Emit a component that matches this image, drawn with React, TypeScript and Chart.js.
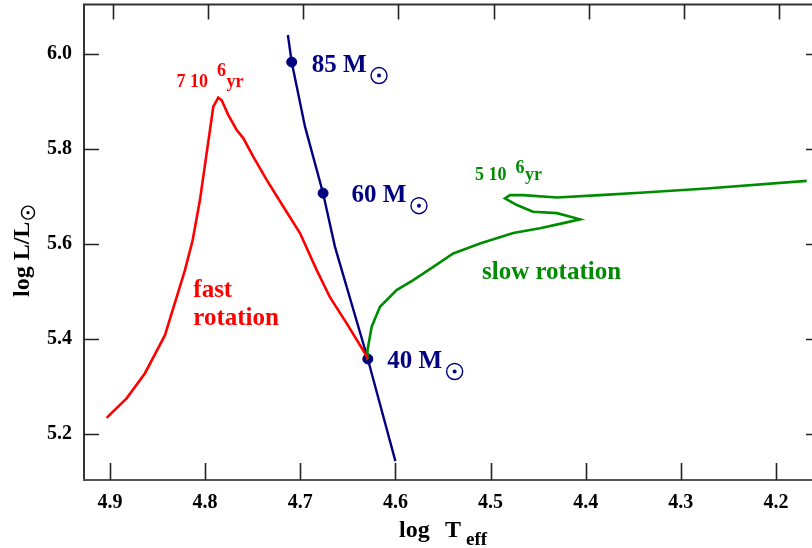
import React, { useEffect, useRef } from "react";
import { Chart, registerables } from "chart.js";
Chart.register(...registerables);

// ---- data (log Teff, log L/Lsun) ----
const xTickValues = [4.9, 4.8, 4.7, 4.6, 4.5, 4.4, 4.3, 4.2];
const yTickValues = [5.2, 5.4, 5.6, 5.8, 6.0];

const zamsLogT = [4.713, 4.709, 4.695, 4.676, 4.6635, 4.629, 4.6];
const zamsLogL = [6.04, 5.983, 5.847, 5.707, 5.594, 5.358, 5.143];

const massLogT = [4.709, 4.676, 4.629];
const massLogL = [5.983, 5.707, 5.358];
const massNames = ["85", "60", "40"];

const fastLogT = [
  4.9035, 4.8825, 4.8632, 4.8422, 4.8212, 4.8131, 4.8054, 4.7914, 4.7862,
  4.7827, 4.7757, 4.7668, 4.7599, 4.7494, 4.7353, 4.7179, 4.7003, 4.6827,
  4.6688, 4.6512, 4.632, 4.6288,
];
const fastLogL = [
  5.234, 5.275, 5.328, 5.408, 5.545, 5.608, 5.693, 5.889, 5.908, 5.903, 5.872,
  5.84, 5.823, 5.784, 5.735, 5.679, 5.623, 5.545, 5.488, 5.433, 5.37, 5.358,
];

const slowLogT = [
  4.6288, 4.6293, 4.6249, 4.6162, 4.5987, 4.5812, 4.5602, 4.5392, 4.5111,
  4.4761, 4.448, 4.4235, 4.406, 4.4302, 4.4554, 4.4722, 4.4848, 4.4796,
  4.4659, 4.4302, 4.385, 4.3429, 4.2728, 4.1677,
];
const slowLogL = [
  5.358, 5.377, 5.426, 5.468, 5.503, 5.524, 5.552, 5.58, 5.601, 5.623, 5.633,
  5.644, 5.652, 5.665, 5.668, 5.682, 5.696, 5.703, 5.703, 5.698, 5.703, 5.708,
  5.717, 5.733,
];

const X_MIN = 4.1621;
const X_MAX = 4.9273;
const Y_MIN = 5.1032;
const Y_MAX = 6.1042;

const RED = "#ff0000";
const NAVY = "#000080";
const GREEN = "#008c00";
const FONT = '"Liberation Serif", "Times New Roman", serif';

const toPts = (xs: number[], ys: number[]) => xs.map((x, i) => ({ x, y: ys[i] }));

function sun(ctx: CanvasRenderingContext2D, x: number, y: number, r: number, color: string) {
  ctx.save();
  ctx.strokeStyle = color;
  ctx.fillStyle = color;
  ctx.lineWidth = 1.4;
  ctx.beginPath();
  ctx.arc(x, y, r, 0, Math.PI * 2);
  ctx.stroke();
  ctx.beginPath();
  ctx.arc(x, y, Math.max(1.5, r * 0.25), 0, Math.PI * 2);
  ctx.fill();
  ctx.restore();
}

const decorPlugin = {
  id: "decor",
  afterDraw(chart: any) {
    const ctx: CanvasRenderingContext2D = chart.ctx;
    const { left, right, top, bottom } = chart.chartArea;
    const xs = chart.scales.x;
    const ys = chart.scales.y;
    ctx.save();
    // frame
    ctx.lineCap = "butt";
    ctx.strokeStyle = "#333";
    ctx.lineWidth = 2;
    ctx.beginPath();
    ctx.moveTo(left, top);
    ctx.lineTo(left, bottom);
    ctx.moveTo(left - 1, top);
    ctx.lineTo(right, top);
    ctx.stroke();
    ctx.strokeStyle = "#555";
    ctx.beginPath();
    ctx.moveTo(left - 1, bottom);
    ctx.lineTo(right, bottom);
    ctx.stroke();
    // ticks
    ctx.strokeStyle = "#222";
    ctx.lineWidth = 1.6;
    ctx.beginPath();
    xTickValues.forEach((v) => {
      const px = Math.round(xs.getPixelForValue(v)) + 0.5;
      ctx.moveTo(px, bottom);
      ctx.lineTo(px, bottom - 17);
      ctx.moveTo(px + 3, top);
      ctx.lineTo(px + 3, top + 15);
    });
    yTickValues.forEach((v) => {
      const py = Math.round(ys.getPixelForValue(v)) + 0.5;
      ctx.moveTo(left, py);
      ctx.lineTo(left + 15, py);
      ctx.moveTo(right, py);
      ctx.lineTo(right - 6, py);
    });
    ctx.stroke();

    const X = (v: number) => xs.getPixelForValue(v);
    const Y = (v: number) => ys.getPixelForValue(v);

    // mass labels
    ctx.textAlign = "left";
    ctx.textBaseline = "alphabetic";
    ctx.font = `bold 25px ${FONT}`;
    ctx.fillStyle = NAVY;
    const massLabelPos = [
      [4.688, 5.962],
      [4.646, 5.688],
      [4.6085, 5.339],
    ];
    massNames.forEach((m, i) => {
      const tx = X(massLabelPos[i][0]);
      const ty = Y(massLabelPos[i][1]);
      const t = `${m} M`;
      ctx.fillText(t, tx, ty);
      const w = ctx.measureText(t).width;
      sun(ctx, tx + w + 12.5, ty + 3.5, 8, NAVY);
    });

    // fast / slow rotation
    ctx.fillStyle = RED;
    ctx.fillText("fast", X(4.8124), Y(5.488));
    ctx.fillText("rotation", X(4.8124), Y(5.429));
    ctx.fillStyle = GREEN;
    ctx.fillText("slow rotation", X(4.509), Y(5.526));

    // ages
    const age = (a: string, vx: number, vy: number, raise: number, color: string) => {
      const tx = X(vx);
      const ty = Y(vy);
      ctx.fillStyle = color;
      ctx.font = `bold 18px ${FONT}`;
      const head = `${a} 10`;
      ctx.fillText(head, tx, ty);
      const sx = tx + ctx.measureText(head).width + 9;
      ctx.fillText("6", sx, ty - raise);
      ctx.fillText("yr", sx + ctx.measureText("6").width + 0.5, ty);
    };
    age("7", 4.83, 5.931, 11, RED);
    age("5", 4.5164, 5.7347, 7, GREEN);

    // x title
    ctx.fillStyle = "#000";
    ctx.font = `bold 24px ${FONT}`;
    ctx.fillText("log", 399, 537);
    ctx.fillText("T", 445, 537);
    ctx.font = `bold 19px ${FONT}`;
    ctx.fillText("eff", 466, 545);

    // y title
    ctx.save();
    ctx.translate(29, 297);
    ctx.rotate(-Math.PI / 2);
    ctx.font = `bold 24px ${FONT}`;
    ctx.fillStyle = "#000";
    ctx.fillText("log L/L", 0, 0);
    const w = ctx.measureText("log L/L").width;
    sun(ctx, w + 9, -1, 6.5, "#000");
    ctx.restore();

    ctx.restore();
  },
};

export default function App() {
  const ref = useRef<HTMLCanvasElement | null>(null);
  useEffect(() => {
    if (!ref.current) return;
    const chart = new Chart(ref.current, {
      type: "scatter",
      data: {
        datasets: [
          {
            data: toPts(fastLogT, fastLogL),
            showLine: true,
            borderColor: RED,
            borderWidth: 2.6,
            pointRadius: 0,
            tension: 0,
          },
          {
            data: toPts(slowLogT, slowLogL),
            showLine: true,
            borderColor: GREEN,
            borderWidth: 2.6,
            pointRadius: 0,
            tension: 0,
          },
          {
            data: toPts(zamsLogT, zamsLogL),
            showLine: true,
            borderColor: NAVY,
            borderWidth: 2.4,
            pointRadius: 0,
            tension: 0,
          },
          {
            data: toPts(massLogT, massLogL),
            showLine: false,
            backgroundColor: NAVY,
            borderColor: NAVY,
            pointRadius: 5,
          },
        ],
      } as any,
      options: {
        animation: false,
        responsive: true,
        maintainAspectRatio: false,
        layout: { autoPadding: false, padding: { top: 4.5, left: 0, right: 0, bottom: 0 } },
        plugins: { legend: { display: false }, tooltip: { enabled: false } },
        scales: {
          x: {
            type: "linear",
            reverse: true,
            min: X_MIN,
            max: X_MAX,
            grid: { display: false, drawTicks: false },
            border: { display: false },
            afterBuildTicks: (s: any) => {
              s.ticks = xTickValues.map((v) => ({ value: v }));
            },
            afterFit: (s: any) => {
              s.height = 68;
              s.paddingLeft = 0;
              s.paddingRight = 0;
            },
            ticks: {
              color: "#000",
              font: { family: FONT, size: 20, weight: "bold" },
              padding: 11,
              maxRotation: 0,
              callback: (v: any) => Number(v).toFixed(1),
            },
          },
          y: {
            type: "linear",
            min: Y_MIN,
            max: Y_MAX,
            grid: { display: false, drawTicks: false },
            border: { display: false },
            afterBuildTicks: (s: any) => {
              s.ticks = yTickValues.map((v) => ({ value: v }));
            },
            afterFit: (s: any) => {
              s.width = 84;
              s.paddingTop = 0;
              s.paddingBottom = 0;
            },
            ticks: {
              color: "#000",
              font: { family: FONT, size: 20, weight: "bold" },
              padding: 12,
              callback: (v: any) => Number(v).toFixed(1),
            },
          },
        },
      } as any,
      plugins: [decorPlugin],
    });
    return () => chart.destroy();
  }, []);
  return (
    <div style={{ position: "fixed", left: 0, top: 0, width: 812, height: 548, background: "#fff" }}>
      <canvas ref={ref} />
    </div>
  );
}
